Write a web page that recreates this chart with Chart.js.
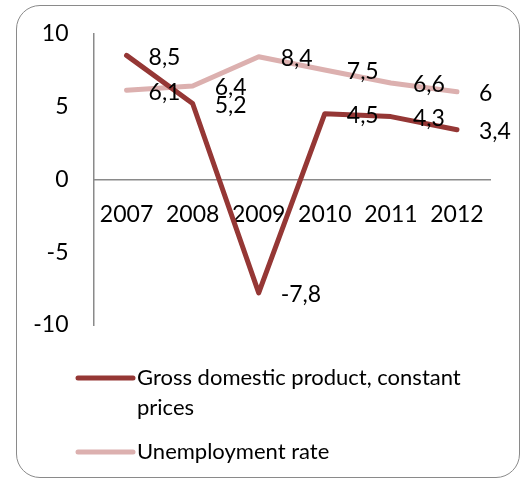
<!DOCTYPE html>
<html>
<head>
<meta charset="utf-8">
<script src="https://cdn.jsdelivr.net/npm/chart.js@4/dist/chart.umd.min.js"></script>
<style>
  html, body { margin: 0; padding: 0; background: #fff; }
  #wrap { position: relative; width: 525px; height: 481px; overflow: hidden; }
  #frame {
    position: absolute; left: 16px; top: 5px; width: 502px; height: 471px;
    border: 1.5px solid #8a8a8a; border-radius: 24px; pointer-events: none;
  }
  canvas { position: absolute; left: 0; top: 0; }
</style>
</head>
<body>
<div id="wrap">
  <canvas id="chartGdp" width="525" height="481"></canvas>
  <div id="frame"></div>
</div>
<script>
var years        = ['2007', '2008', '2009', '2010', '2011', '2012'];
var gdpGrowth    = [8.5, 5.2, -7.8, 4.5, 4.3, 3.4];
var unemployment = [6.1, 6.4, 8.4, 7.5, 6.6, 6.0];
var seriesNames  = ['Gross domestic product, constant prices', 'Unemployment rate'];
var yTicks       = [-10, -5, 0, 5, 10];

var FONT = 'Lato, "Open Sans", sans-serif';

function fmt(v) {
    return String(v).replace('.', ',');
}

// value labels to the right of every point
var valueLabels = {
    id: 'valueLabels',
    afterDatasetsDraw: function (chart) {
        var ctx = chart.ctx;
        ctx.save();
        ctx.font = '23px ' + FONT;
        ctx.fillStyle = '#000';
        ctx.textAlign = 'left';
        ctx.textBaseline = 'middle';
        chart.data.datasets.forEach(function (ds, i) {
            chart.getDatasetMeta(i).data.forEach(function (pt, j) {
                ctx.fillText(fmt(ds.data[j]), pt.x + 22, pt.y + 2);
            });
        });
        ctx.restore();
    }
};

// legend under the plot, long names wrap onto a second line
var wrapLegend = {
    id: 'wrapLegend',
    afterDraw: function (chart) {
        var ctx = chart.ctx;
        var x0 = 78, x1 = 133, tx = 137, maxW = 340;
        var y = 378;
        ctx.save();
        ctx.font = '22px ' + FONT;
        ctx.textAlign = 'left';
        ctx.textBaseline = 'middle';
        chart.data.datasets.forEach(function (ds) {
            ctx.strokeStyle = ds.borderColor;
            ctx.lineWidth = 5;
            ctx.lineCap = 'round';
            ctx.beginPath();
            ctx.moveTo(x0, y);
            ctx.lineTo(x1, y);
            ctx.stroke();

            var words = ds.label.split(' ');
            var lines = [], cur = '';
            words.forEach(function (w) {
                var test = cur ? cur + ' ' + w : w;
                if (ctx.measureText(test).width > maxW && cur) {
                    lines.push(cur);
                    cur = w;
                } else {
                    cur = test;
                }
            });
            lines.push(cur);
            ctx.fillStyle = '#000';
            lines.forEach(function (ln, k) {
                ctx.fillText(ln, tx, y + k * 30);
            });
            y += (lines.length - 1) * 30 + 44;
        });
        ctx.restore();
    }
};

new Chart(document.getElementById('chartGdp').getContext('2d'), {
    type: 'line',
    data: {
        labels: years,
        datasets: [{
            label: seriesNames[0], data: gdpGrowth,
            borderColor: '#953735', borderWidth: 5,
            borderCapStyle: 'round', borderJoinStyle: 'round',
            pointRadius: 0, tension: 0
        }, {
            label: seriesNames[1], data: unemployment,
            borderColor: '#dcb0af', borderWidth: 5,
            borderCapStyle: 'round', borderJoinStyle: 'round',
            pointRadius: 0, tension: 0
        }]
    },
    options: {
        responsive: false,
        animation: false,
        layout: { padding: { left: 16, top: 33.5, right: 35, bottom: 156 } },
        plugins: { legend: { display: false }, tooltip: { enabled: false } },
        scales: {
            x: {
                type: 'category',
                position: { y: 0 },
                offset: true,
                grid: { display: false, drawTicks: false },
                border: { display: true, color: '#8a8a8a', width: 1.5 },
                ticks: { color: '#000', font: { family: FONT, size: 23 }, padding: 22, maxRotation: 0, autoSkip: false }
            },
            y: {
                min: -10, max: 10,
                afterBuildTicks: function (scale) {
                    scale.ticks = yTicks.map(function (v) { return { value: v }; });
                },
                afterFit: function (scale) {
                    scale.width = 77.5;
                    scale.paddingTop = 0;
                    scale.paddingBottom = 0;
                },
                grid: { display: false, drawTicks: false },
                border: { display: true, color: '#8a8a8a', width: 1.5 },
                ticks: { color: '#000', font: { family: FONT, size: 23 }, padding: 25 }
            }
        }
    },
    plugins: [valueLabels, wrapLegend]
});
</script>
</body>
</html>
